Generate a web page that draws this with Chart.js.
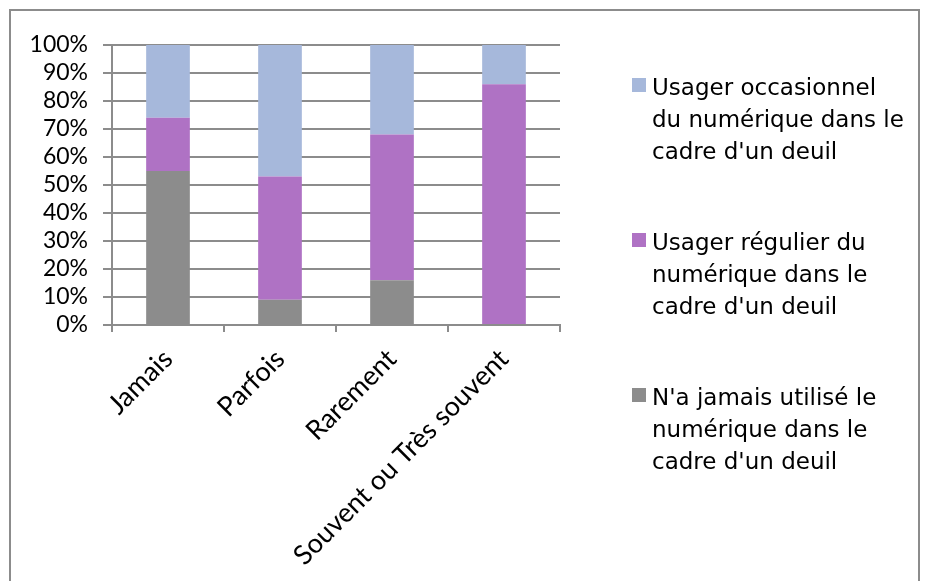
<!DOCTYPE html>
<html>
<head>
<meta charset="utf-8">
<script src="https://cdn.jsdelivr.net/npm/chart.js@4"></script>
<style>
  body { margin: 0; background: #fff; font-family: "DejaVu Sans", sans-serif; }
  #frame { position: absolute; left: 9px; top: 9px; width: 907px; height: 600px; border: 2px solid #8c8c8c; }
  #wrap { position: absolute; left: 0; top: 0; width: 927px; height: 581px; }
  #legend { position: absolute; left: 632px; top: 71px; }
  .item { position: absolute; left: 0; white-space: nowrap; font-size: 23px; line-height: 32px; color: #000; padding-left: 20px; }
  .box { position: absolute; left: 0; top: 7px; width: 14px; height: 14px; }
</style>
</head>
<body>
<div id="frame"></div>
<div id="wrap"><canvas id="chart"></canvas></div>
<div id="legend"></div>
<script>
// categories and series (percent of each group)
const categories = ["Jamais", "Parfois", "Rarement", "Souvent ou Très souvent"];
const neverUsed = [55, 9, 16, 0];
const regularUser = [19, 44, 52, 86];
const occasionalUser = [26, 47, 32, 14];
const yTicks = [0, 10, 20, 30, 40, 50, 60, 70, 80, 90, 100];

const seriesLabels = [
  "N'a jamais utilisé le numérique dans le cadre d'un deuil",
  "Usager régulier du numérique dans le cadre d'un deuil",
  "Usager occasionnel du numérique dans le cadre d'un deuil"
];
// how the legend text wraps in the original
const legendLines = [
  ["N'a jamais utilisé le", "numérique dans le", "cadre d'un deuil"],
  ["Usager régulier du", "numérique dans le", "cadre d'un deuil"],
  ["Usager occasionnel", "du numérique dans le", "cadre d'un deuil"]
];
const colors = ["#8c8c8c", "#af72c4", "#a6b8db"];

const ctx = document.getElementById("chart").getContext("2d");
const chart = new Chart(ctx, {
  type: "bar",
  data: {
    labels: categories,
    datasets: [
      { label: seriesLabels[0], data: neverUsed, backgroundColor: colors[0] },
      { label: seriesLabels[1], data: regularUser, backgroundColor: colors[1] },
      { label: seriesLabels[2], data: occasionalUser, backgroundColor: colors[2] }
    ]
  },
  options: {
    responsive: true,
    maintainAspectRatio: false,
    animation: false,
    layout: { padding: { left: 20, top: 45, right: 367, bottom: 0 } },
    datasets: { bar: { barPercentage: 0.39, categoryPercentage: 1 } },
    plugins: { legend: { display: false }, tooltip: { enabled: false } },
    scales: {
      x: {
        stacked: true,
        grid: { offset: true, drawOnChartArea: false, drawTicks: true, tickLength: 7, color: "#8c8c8c", lineWidth: 2 },
        border: { color: "#8c8c8c", width: 2 },
        ticks: {
          color: "#000", minRotation: 45, maxRotation: 45, padding: 11, autoSkip: false,
          font: { family: "Lato", size: 27 }
        },
        afterFit: (scale) => { scale.height = 256; }
      },
      y: {
        stacked: true,
        min: 0, max: 100,
        afterBuildTicks: (scale) => { scale.ticks = yTicks.map(v => ({ value: v })); },
        grid: { color: "#8c8c8c", lineWidth: 2, tickLength: 9 },
        border: { color: "#8c8c8c", width: 2 },
        ticks: {
          color: "#000", padding: 15, autoSkip: false,
          font: { family: "Lato", size: 23 },
          callback: (v) => v + "%"
        },
        afterFit: (scale) => { scale.width = 92; }
      }
    }
  }
});

// legend shown top-to-bottom in reverse stacking order
const legend = document.getElementById("legend");
[2, 1, 0].forEach((i, k) => {
  const item = document.createElement("div");
  item.className = "item";
  item.style.top = (k * 155) + "px";
  item.innerHTML = '<span class="box" style="background:' + colors[i] + '"></span>' + legendLines[i].join("<br>");
  legend.appendChild(item);
});
</script>
</body>
</html>
